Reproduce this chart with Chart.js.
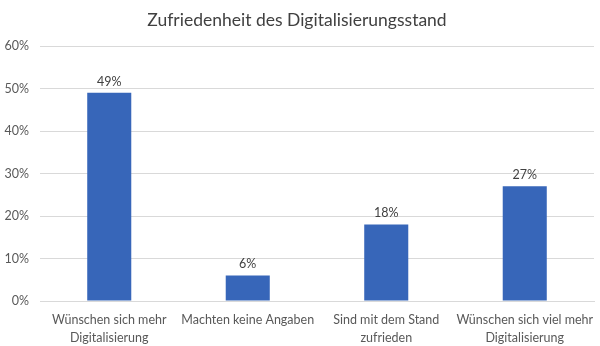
<!DOCTYPE html>
<html>
<head>
<meta charset="utf-8">
<script src="https://cdn.jsdelivr.net/npm/chart.js@4.4.1/dist/chart.umd.min.js"></script>
<style>
  html, body { margin: 0; padding: 0; background: #fff; }
  #wrap { width: 600px; height: 346px; }
</style>
</head>
<body>
<div id="wrap"><canvas id="chart"></canvas></div>
<script>
// Kategorien und Werte (Prozent)
var kategorien = [
  ['Wünschen sich mehr', 'Digitalisierung'],
  ['Machten keine Angaben'],
  ['Sind mit dem Stand', 'zufrieden'],
  ['Wünschen sich viel mehr', 'Digitalisierung']
];
var anteile = [49, 6, 18, 27];
var yTicks = [0, 10, 20, 30, 40, 50, 60];
var titel = 'Zufriedenheit des Digitalisierungsstand';

var schrift = "Lato, 'Open Sans', sans-serif";
var textFarbe = '#595959';

// Werte über den Balken schreiben
var wertLabels = {
  id: 'wertLabels',
  afterDatasetsDraw: function(chart) {
    var ctx = chart.ctx;
    var meta = chart.getDatasetMeta(0);
    ctx.save();
    ctx.font = '12.5px ' + schrift;
    ctx.fillStyle = '#404040';
    ctx.textAlign = 'center';
    ctx.textBaseline = 'bottom';
    meta.data.forEach(function(bar, i) {
      ctx.fillText(anteile[i] + '%', bar.x, bar.y - 5);
    });
    ctx.restore();
  }
};

new Chart(document.getElementById('chart'), {
  type: 'bar',
  data: {
    labels: kategorien,
    datasets: [{
      data: anteile,
      backgroundColor: '#3766B9',
      borderWidth: 0,
      barPercentage: 0.53,
      categoryPercentage: 0.6
    }]
  },
  options: {
    responsive: true,
    maintainAspectRatio: false,
    animation: false,
    layout: { padding: { left: 0, right: 6, top: 4, bottom: 0 } },
    plugins: {
      legend: { display: false },
      tooltip: { enabled: false },
      title: {
        display: true,
        text: titel,
        color: '#404040',
        font: { family: schrift, size: 17.5, weight: 'normal' },
        padding: { top: 6, bottom: 15 }
      }
    },
    scales: {
      y: {
        min: 0,
        max: 60,
        afterBuildTicks: function(axis) {
          axis.ticks = yTicks.map(function(v) { return { value: v }; });
        },
        afterFit: function(axis) { axis.width = 40; },
        grid: { color: '#D9D9D9', drawTicks: false },
        border: { display: false },
        ticks: {
          color: textFarbe,
          padding: 11,
          font: { family: schrift, size: 12.5 },
          callback: function(v) { return v + '%'; }
        }
      },
      x: {
        afterFit: function(axis) { axis.height = 45; },
        grid: { display: false },
        border: { display: true, color: '#D9D9D9' },
        ticks: {
          color: textFarbe,
          padding: 2,
          autoSkip: false,
          maxRotation: 0,
          font: { family: schrift, size: 12.5, lineHeight: 1.44 }
        }
      }
    }
  },
  plugins: [wertLabels]
});
</script>
</body>
</html>
